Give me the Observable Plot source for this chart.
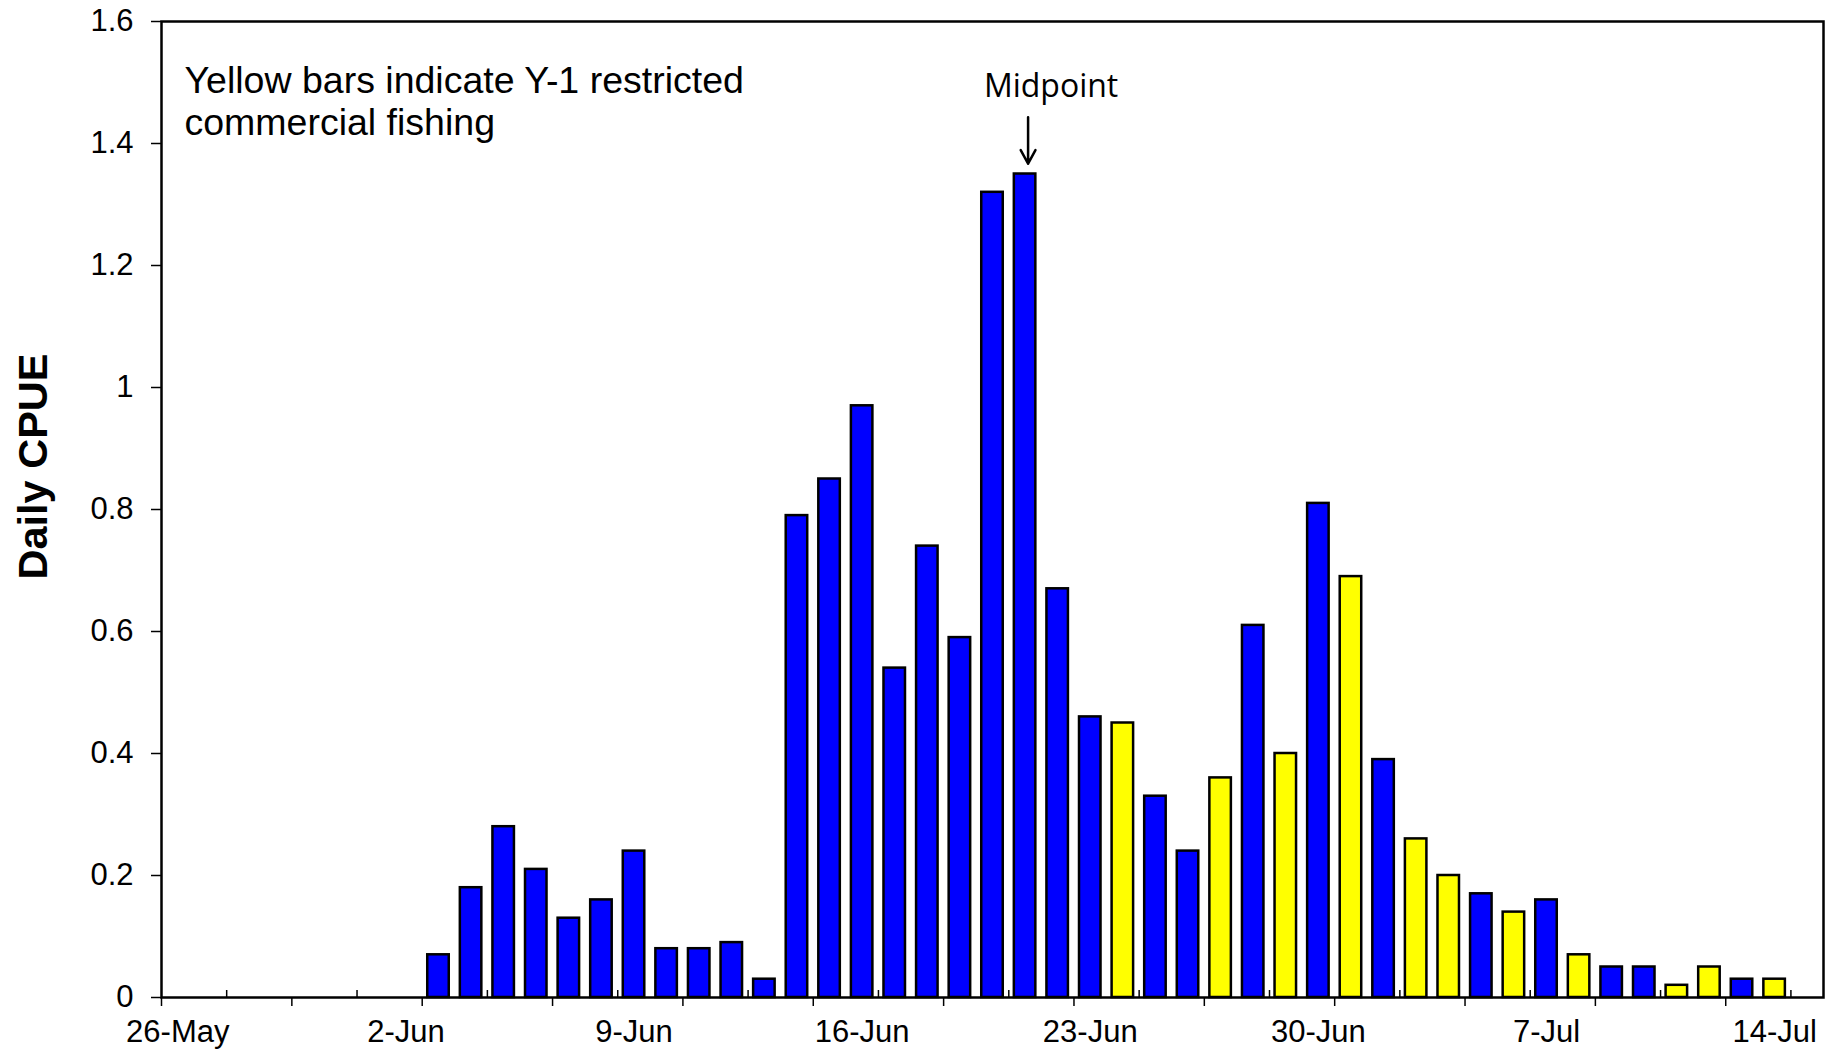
<!DOCTYPE html>
<html>
<head>
<meta charset="utf-8">
<script src="https://cdn.jsdelivr.net/npm/d3@7"></script>
<script src="https://cdn.jsdelivr.net/npm/@observablehq/plot@0.6"></script>
<style>
  html, body { margin: 0; padding: 0; background: #ffffff; }
  #chart { width: 1841px; height: 1052px; }
</style>
</head>
<body>
<div id="chart"></div>
<script>
// ---- Data ----
const dates = [
  "3-Jun","4-Jun","5-Jun","6-Jun","7-Jun","8-Jun","9-Jun","10-Jun","11-Jun","12-Jun",
  "13-Jun","14-Jun","15-Jun","16-Jun","17-Jun","18-Jun","19-Jun","20-Jun","21-Jun","22-Jun",
  "23-Jun","24-Jun","25-Jun","26-Jun","27-Jun","28-Jun","29-Jun","30-Jun","1-Jul","2-Jul",
  "3-Jul","4-Jul","5-Jul","6-Jul","7-Jul","8-Jul","9-Jul","10-Jul","11-Jul","12-Jul",
  "13-Jul","14-Jul"
];
const cpue = [
  0.07, 0.18, 0.28, 0.21, 0.13, 0.16, 0.24, 0.08, 0.08, 0.09,
  0.03, 0.79, 0.85, 0.97, 0.54, 0.74, 0.59, 1.32, 1.35, 0.67,
  0.46, 0.45, 0.33, 0.24, 0.36, 0.61, 0.40, 0.81, 0.69, 0.39,
  0.26, 0.20, 0.17, 0.14, 0.16, 0.07, 0.05, 0.05, 0.02, 0.05,
  0.03, 0.03
];
const restrictedDays = ["24-Jun","27-Jun","29-Jun","1-Jul","3-Jul","4-Jul","6-Jul","8-Jul","11-Jul","12-Jul","14-Jul"];
const xTickLabels = ["26-May","2-Jun","9-Jun","16-Jun","23-Jun","30-Jun","7-Jul","14-Jul"];
const yTickValues = [0, 0.2, 0.4, 0.6, 0.8, 1, 1.2, 1.4, 1.6];
const axisFirstDay = "2009-05-26";
const axisEndDay = "2009-07-16"; // exclusive
const midpointDate = "21-Jun";
const noteText = "Yellow bars indicate Y-1 restricted\ncommercial fishing";
const yTitle = "Daily CPUE";
const midpointLabel = "Midpoint";

// ---- Build ----
const fmt = d3.utcFormat("%-d-%b");
const xDomain = d3.utcDay.range(new Date(axisFirstDay), new Date(axisEndDay)).map(fmt);
const data = dates.map((d, i) => ({date: d, value: cpue[i], restricted: restrictedDays.includes(d)}));
const downTicks = xDomain.filter((d, i) => i % 4 === 0);
const upTicks = xDomain.filter((d, i) => i % 4 === 2);
const peak = cpue[dates.indexOf(midpointDate)];

const W = 1841, H = 1052;
const mL = 161, mR = 18, mT = 21, mB = 55;
const step = (W - mL - mR) / xDomain.length;

const chart = Plot.plot({
  width: W, height: H,
  marginTop: mT, marginRight: mR, marginBottom: mB, marginLeft: mL,
  style: {fontFamily: "'Liberation Sans', Arial, sans-serif", background: "white", color: "black"},
  x: {type: "band", domain: xDomain, paddingInner: 0.34, paddingOuter: 0.17, round: false, axis: null, label: null},
  y: {domain: [0, 1.6], axis: null, label: null},
  marks: [
    Plot.barY(data, {
      x: "date", y: "value",
      fill: d => d.restricted ? "#FFFF00" : "#0000FF",
      stroke: "black", strokeWidth: 2.5
    }),
    Plot.frame({stroke: "black", strokeWidth: 2.5}),
    Plot.axisY(yTickValues, {
      tickSize: 10, tickPadding: 18, fontSize: 31, strokeWidth: 1.5,
      tickFormat: d => String(d), label: null
    }),
    Plot.axisX(xTickLabels, {tickSize: 0, tickPadding: 22, fontSize: 31, label: null}),
    Plot.axisX(downTicks, {tickSize: 9, tickFormat: () => "", dx: -step / 2, strokeWidth: 1.5, label: null}),
    Plot.axisX(upTicks, {tickSize: -7, tickFormat: () => "", dx: -step / 2, strokeWidth: 1.5, label: null}),
    Plot.text([noteText], {
      frameAnchor: "top-left", text: d => d, textAnchor: "start", lineAnchor: "top",
      dx: 23, dy: 41, fontSize: 37.5, lineHeight: 1.13, fill: "black"
    }),
    Plot.text([midpointDate], {
      x: d => d, frameAnchor: "top", text: () => midpointLabel, lineAnchor: "top",
      dx: 26, dy: 53, fontSize: 32, fontFamily: "'Open Sans', sans-serif", fill: "black"
    }),
    Plot.arrow([{date: midpointDate, value: peak}], {
      x1: "date", x2: "date",
      y1: d => d.value + 0.093, y2: d => d.value + 0.017,
      stroke: "black", strokeWidth: 2.5, headLength: 21, headAngle: 57, dx: 3
    }),
    Plot.text([yTitle], {
      frameAnchor: "left", text: d => d, rotate: -90, textAnchor: "middle",
      dx: -128, dy: -43, fontSize: 41.5, fontWeight: "bold", fill: "black"
    })
  ]
});
document.getElementById("chart").appendChild(chart);
</script>
</body>
</html>
